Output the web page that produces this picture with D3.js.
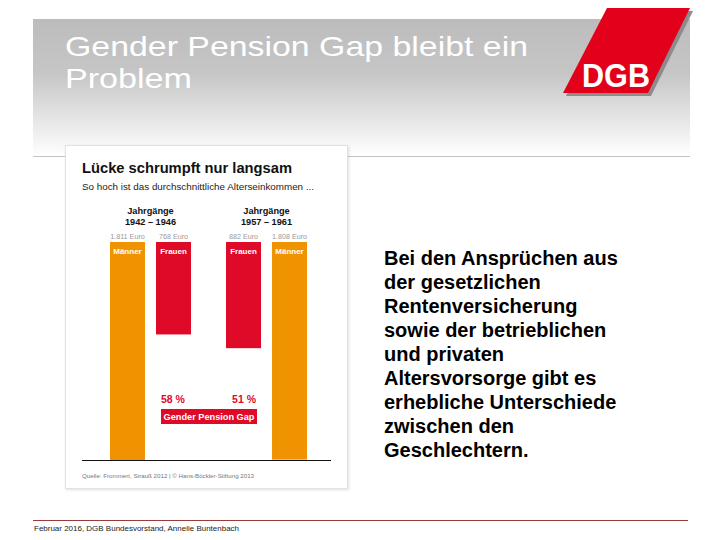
<!DOCTYPE html>
<html>
<head>
<meta charset="utf-8">
<script src="https://cdn.jsdelivr.net/npm/d3@7"></script>
<style>
  body { margin: 0; background: #fff; }
  svg { display: block; font-family: "Liberation Sans", Arial, sans-serif; }
</style>
</head>
<body>
<svg id="chart" width="720" height="540"></svg>
<script>
// chart data
const cohorts = ["1942 – 1946", "1957 – 1961"];
const barCohort = [0, 0, 1, 1];
const barSex = ["Männer", "Frauen", "Frauen", "Männer"];
const barValues = [1811, 768, 882, 1808];
const euroLabels = ["1.811 Euro", "768 Euro", "882 Euro", "1.808 Euro"];
const gapLabels = ["58 %", "51 %"];

const slideTitle = ["Gender Pension Gap bleibt ein", "Problem"];
const titleWidths = [463, 127];
const bodyLines = [
  "Bei den Ansprüchen aus",
  "der gesetzlichen",
  "Rentenversicherung",
  "sowie der betrieblichen",
  "und privaten",
  "Altersvorsorge gibt es",
  "erhebliche Unterschiede",
  "zwischen den",
  "Geschlechtern."
];
const footerText = "Februar 2016, DGB Bundesvorstand, Annelie Buntenbach";

const orange = "#ef9400";
const red = "#de0a27";

const svg = d3.select("#chart");
const defs = svg.append("defs");

// header gradient
const grad = defs.append("linearGradient")
  .attr("id", "hdr").attr("x1", 0).attr("x2", 0).attr("y1", 0).attr("y2", 1);
grad.append("stop").attr("offset", "0%").attr("stop-color", "#bcbcbc");
grad.append("stop").attr("offset", "40%").attr("stop-color", "#c6c6c6");
grad.append("stop").attr("offset", "100%").attr("stop-color", "#ffffff");

svg.append("rect")
  .attr("x", 33).attr("y", 19).attr("width", 657).attr("height", 137)
  .attr("fill", "url(#hdr)");
svg.append("line")
  .attr("x1", 33).attr("x2", 690).attr("y1", 156.5).attr("y2", 156.5)
  .attr("stroke", "#c4c4c4").attr("stroke-width", 1);

// slide title
svg.append("g").selectAll("text")
  .data(slideTitle)
  .enter().append("text")
  .attr("x", 65)
  .attr("y", (d, i) => 56 + i * 32)
  .attr("fill", "#fff")
  .attr("font-size", 28)
  .attr("textLength", (d, i) => titleWidths[i])
  .attr("lengthAdjust", "spacingAndGlyphs")
  .text(d => d);

// DGB logo
const logo = svg.append("g");
logo.append("polygon")
  .attr("points", "610,11 693,11 651,96 566,96")
  .attr("fill", "#8c8c8c");
logo.append("polygon")
  .attr("points", "607,8 690,8 648,93 563,93")
  .attr("fill", "#e3001b");
logo.append("text")
  .attr("x", 582).attr("y", 87)
  .attr("fill", "#fff")
  .attr("font-size", 33).attr("font-weight", "bold")
  .attr("textLength", 68).attr("lengthAdjust", "spacingAndGlyphs")
  .text("DGB");

// chart card
defs.append("filter").attr("id", "shadow")
  .append("feDropShadow")
  .attr("dx", 1).attr("dy", 1).attr("stdDeviation", 1.5)
  .attr("flood-color", "#000").attr("flood-opacity", 0.12);

svg.append("rect")
  .attr("x", 65.5).attr("y", 145.5).attr("width", 282).attr("height", 343)
  .attr("fill", "#fff").attr("stroke", "#e2e2e2")
  .attr("filter", "url(#shadow)");

const card = svg.append("g");

card.append("text")
  .attr("x", 82).attr("y", 173)
  .attr("font-size", 14.6).attr("font-weight", "bold").attr("fill", "#111")
  .attr("textLength", 210).attr("lengthAdjust", "spacingAndGlyphs")
  .text("Lücke schrumpft nur langsam");
card.append("text")
  .attr("x", 82).attr("y", 190)
  .attr("font-size", 8.8).attr("fill", "#222")
  .attr("textLength", 232).attr("lengthAdjust", "spacingAndGlyphs")
  .text("So hoch ist das durchschnittliche Alterseinkommen ...");

// scales
const x0 = d3.scaleBand().domain(d3.range(cohorts.length)).range([110, 307]).paddingInner(0.302);
const x1 = d3.scaleBand().domain([0, 1]).range([0, x0.bandwidth()]).paddingInner(0.24);
const barTop = 242;
const y = d3.scaleLinear().domain([0, d3.max(barValues)]).range([0, 218]);

const bars = barValues.map((v, i) => ({
  value: v, sex: barSex[i], cohort: barCohort[i], euro: euroLabels[i],
  slot: barCohort.slice(0, i).filter(c => c === barCohort[i]).length
}));
const bx = d => x0(d.cohort) + x1(d.slot);

// cohort headers
const hdr = card.append("g").selectAll("text")
  .data(cohorts)
  .enter().append("text")
  .attr("text-anchor", "middle")
  .attr("font-size", 9.2).attr("font-weight", "bold").attr("fill", "#111");
hdr.append("tspan").attr("x", (d, i) => x0(i) + x0.bandwidth() / 2).attr("y", 214).text("Jahrgänge");
hdr.append("tspan").attr("x", (d, i) => x0(i) + x0.bandwidth() / 2).attr("y", 224.5).text(d => d);

// bars
card.append("g").selectAll("rect")
  .data(bars)
  .enter().append("rect")
  .attr("x", bx)
  .attr("y", barTop)
  .attr("width", x1.bandwidth())
  .attr("height", d => y(d.value))
  .attr("fill", d => d.sex === "Männer" ? orange : red);

card.append("g").selectAll("text")
  .data(bars)
  .enter().append("text")
  .attr("x", d => bx(d) + x1.bandwidth() / 2)
  .attr("y", 238.5)
  .attr("text-anchor", "middle")
  .attr("font-size", 7.2).attr("fill", "#9a9a9a")
  .text(d => d.euro);

card.append("g").selectAll("text")
  .data(bars)
  .enter().append("text")
  .attr("x", d => bx(d) + x1.bandwidth() / 2)
  .attr("y", 253.5)
  .attr("text-anchor", "middle")
  .attr("font-size", 8).attr("font-weight", "bold").attr("fill", "#fff")
  .text(d => d.sex);

// baseline
card.append("line")
  .attr("x1", 82).attr("x2", 331)
  .attr("y1", barTop + y(d3.max(barValues)) + 0.5)
  .attr("y2", barTop + y(d3.max(barValues)) + 0.5)
  .attr("stroke", "#111").attr("stroke-width", 1);

// gap labels
card.append("g").selectAll("text")
  .data(gapLabels)
  .enter().append("text")
  .attr("x", (d, i) => i === 0 ? 161 : 256)
  .attr("y", 403)
  .attr("text-anchor", (d, i) => i === 0 ? "start" : "end")
  .attr("font-size", 10.5).attr("font-weight", "bold").attr("fill", red)
  .text(d => d);

card.append("rect")
  .attr("x", 161).attr("y", 409).attr("width", 96).attr("height", 15)
  .attr("fill", red);
card.append("text")
  .attr("x", 209).attr("y", 420)
  .attr("text-anchor", "middle")
  .attr("font-size", 9.2).attr("font-weight", "bold").attr("fill", "#fff")
  .text("Gender Pension Gap");

card.append("text")
  .attr("x", 82).attr("y", 478)
  .attr("font-size", 6).attr("fill", "#777")
  .attr("textLength", 172).attr("lengthAdjust", "spacingAndGlyphs")
  .text("Quelle: Frommert, Strauß 2012 | © Hans-Böckler-Stiftung 2013");

// body text
svg.append("g").selectAll("text")
  .data(bodyLines)
  .enter().append("text")
  .attr("x", 384)
  .attr("y", (d, i) => 265 + i * 24)
  .attr("font-size", 20).attr("font-weight", "bold").attr("fill", "#000")
  .text(d => d);

// footer
svg.append("line")
  .attr("x1", 33).attr("x2", 688).attr("y1", 520.5).attr("y2", 520.5)
  .attr("stroke", "#9b3a3a").attr("stroke-width", 1);
svg.append("text")
  .attr("x", 34).attr("y", 531)
  .attr("font-size", 8).attr("fill", "#222")
  .attr("textLength", 205).attr("lengthAdjust", "spacingAndGlyphs")
  .text(footerText);
</script>
</body>
</html>
